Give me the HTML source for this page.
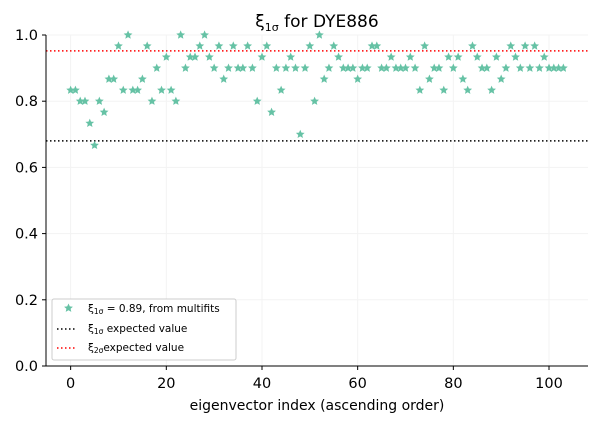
<!DOCTYPE html>
<html><head><meta charset="utf-8"><style>
body{margin:0;background:#fff}
svg{display:block;font-family:"DejaVu Sans","Liberation Sans",sans-serif}
</style></head><body>
<svg id="chart" width="599" height="422" xmlns="http://www.w3.org/2000/svg">
<text x="317" y="27" font-size="17" text-anchor="middle">ξ<tspan font-size="11" dy="4">1σ</tspan><tspan dy="-4"> for DYE886</tspan></text>
<g id="grid"></g>
<g id="lines"></g>
<g id="points"></g>
<g id="axes"></g>
<text x="317" y="410" font-size="14" text-anchor="middle">eigenvector index (ascending order)</text>
<g>
<rect x="52" y="299" width="184" height="61" rx="2" fill="#fff" stroke="#ccc" stroke-width="1"/>
<path d="M68.5,303.5 l1.3,2.9 3.1,0.3 -2.3,2.1 0.7,3.1 -2.8,-1.6 -2.8,1.6 0.7,-3.1 -2.3,-2.1 3.1,-0.3z" fill="#66c2a5"/>
<text x="88" y="312" font-size="10.5">ξ<tspan font-size="7.5" dy="2">1σ</tspan><tspan dy="-2"> = 0.89, from multifits</tspan></text>
<line x1="57" y1="329" x2="77" y2="329" stroke="#000" stroke-width="1.5" stroke-dasharray="1.5,2.5"/>
<text x="88" y="332" font-size="10.5">ξ<tspan font-size="7.5" dy="2">1σ</tspan><tspan dy="-2"> expected value</tspan></text>
<line x1="57" y1="348" x2="77" y2="348" stroke="#f00" stroke-width="1.5" stroke-dasharray="1.5,2.5"/>
<text x="88" y="351" font-size="10.5">ξ<tspan font-size="7.5" dy="2">2σ</tspan><tspan dy="-2">expected value</tspan></text>
</g>
</svg>
<script>
const values=[0.8333,0.8333,0.8,0.8,0.7333,0.6667,0.8,0.7667,0.8667,0.8667,
0.9667,0.8333,1.0,0.8333,0.8333,0.8667,0.9667,0.8,0.9,0.8333,
0.9333,0.8333,0.8,1.0,0.9,0.9333,0.9333,0.9667,1.0,0.9333,
0.9,0.9667,0.8667,0.9,0.9667,0.9,0.9,0.9667,0.9,0.8,
0.9333,0.9667,0.7667,0.9,0.8333,0.9,0.9333,0.9,0.7,0.9,
0.9667,0.8,1.0,0.8667,0.9,0.9667,0.9333,0.9,0.9,0.9,
0.8667,0.9,0.9,0.9667,0.9667,0.9,0.9,0.9333,0.9,0.9,
0.9,0.9333,0.9,0.8333,0.9667,0.8667,0.9,0.9,0.8333,0.9333,
0.9,0.9333,0.8667,0.8333,0.9667,0.9333,0.9,0.9,0.8333,0.9333,
0.8667,0.9,0.9667,0.9333,0.9,0.9667,0.9,0.9667,0.9,0.9333,
0.9,0.9,0.9,0.9];
const refValues=[0.68,0.952];
const xTicks=[0,20,40,60,80,100];
const yTicks=[0.0,0.2,0.4,0.6,0.8,1.0];
const NS="http://www.w3.org/2000/svg";
const L=46,R=588,T=35,B=366,xmin=-5.15,xmax=108.15;
const X=v=>L+(v-xmin)/(xmax-xmin)*(R-L);
const Y=v=>B-v*(B-T);
function mk(tag,attrs,parent){const e=document.createElementNS(NS,tag);for(const k in attrs)e.setAttribute(k,attrs[k]);document.getElementById(parent).appendChild(e);return e;}
xTicks.forEach(t=>{const g=mk('line',{x1:X(t),x2:X(t),y1:T,y2:B,stroke:'#f3f3f3','stroke-width':1},'grid');


const tk=mk('line',{x1:X(t),x2:X(t),y1:B,y2:B+4,stroke:'#000','stroke-width':1},'axes');


const tx=mk('text',{x:X(t),y:B+22,'font-size':14.5,'text-anchor':'middle'},'axes');tx.textContent=t;

});
yTicks.forEach(t=>{const g=mk('line',{x1:L,x2:R,y1:Y(t),y2:Y(t),stroke:'#f3f3f3','stroke-width':1},'grid');


const tk=mk('line',{x1:L-4,x2:L,y1:Y(t),y2:Y(t),stroke:'#000','stroke-width':1},'axes');


const tx=mk('text',{x:L-8,y:Y(t)+5,'font-size':14.5,'text-anchor':'end'},'axes');tx.textContent=t.toFixed(1);

});
const ax=mk('path',{d:`M${L},${T}V${B}H${R}`,fill:'none',stroke:'#000','stroke-width':1},'axes');


const cols=['#000','#f00'];
refValues.forEach((v,i)=>{const l=mk('line',{x1:L,x2:R,y1:Y(v),y2:Y(v),stroke:cols[i],'stroke-width':1.5,'stroke-dasharray':'1.5,2.5'},'lines');

});
function star(cx,cy,r){let p='';for(let k=0;k<10;k++){const a=-Math.PI/2+k*Math.PI/5;const rr=k%2?r*0.46:r;p+=(k?'L':'M')+(cx+rr*Math.cos(a)).toFixed(2)+','+(cy+rr*Math.sin(a)).toFixed(2);}return p+'Z';}
values.forEach((v,i)=>{const s=mk('path',{d:star(X(i),Y(v),4.6),fill:'#66c2a5'},'points');

});
</script>
</body></html>
